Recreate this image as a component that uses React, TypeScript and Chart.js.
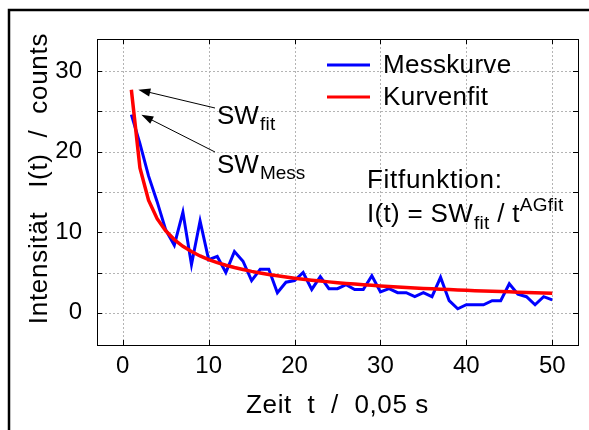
import React, { useEffect, useRef } from 'react';
import { Chart, registerables } from 'chart.js';

Chart.register(...registerables);

// ---- data ----
const tValues = [
  1, 2, 3, 4, 5, 6, 7, 8, 9, 10,
  11, 12, 13, 14, 15, 16, 17, 18, 19, 20,
  21, 22, 23, 24, 25, 26, 27, 28, 29, 30,
  31, 32, 33, 34, 35, 36, 37, 38, 39, 40,
  41, 42, 43, 44, 45, 46, 47, 48, 49, 50,
];
const messkurve = [
  24.6, 21.0, 17.0, 13.8, 10.3, 8.4, 12.5, 6.0, 11.4, 6.6,
  7.0, 5.0, 7.6, 6.4, 4.0, 5.4, 5.4, 2.5, 3.8, 4.0,
  5.0, 2.9, 4.5, 3.0, 3.0, 3.5, 2.9, 2.9, 4.6, 2.6,
  3.0, 2.5, 2.5, 2.0, 2.5, 2.0, 4.4, 1.5, 0.5, 1.0,
  1.0, 1.0, 1.5, 1.5, 3.6, 2.3, 2.0, 1.0, 2.0, 1.6,
];
const kurvenfit = [
  27.7, 18.0, 13.99, 11.69, 10.18, 9.09, 8.26, 7.6, 7.06, 6.61,
  6.23, 5.9, 5.62, 5.37, 5.14, 4.94, 4.75, 4.59, 4.44, 4.3,
  4.17, 4.05, 3.94, 3.84, 3.74, 3.65, 3.57, 3.49, 3.41, 3.34,
  3.27, 3.21, 3.15, 3.09, 3.03, 2.98, 2.93, 2.88, 2.84, 2.79,
  2.75, 2.71, 2.67, 2.63, 2.6, 2.56, 2.53, 2.49, 2.46, 2.43,
];
const xTicks = [0, 10, 20, 30, 40, 50];
const yTicks = [0, 5, 10, 15, 20, 25, 30];
const yLabelled = [0, 10, 20, 30];

const seriesNames = ['Messkurve', 'Kurvenfit'];
const xTitle = 'Zeit  t  /  0,05 s';
const yTitle = 'Intensität   I(t)  /  counts';

const FONT = '"Liberation Sans", Arial, Helvetica, sans-serif';
const BLUE = '#0000ff';
const RED = '#ff0000';

function drawText(
  ctx: CanvasRenderingContext2D,
  s: string,
  x: number,
  y: number,
  size: number,
  spacing = 0.3,
  align: CanvasTextAlign = 'left',
  baseline: CanvasTextBaseline = 'alphabetic'
): number {
  ctx.font = `${size}px ${FONT}`;
  (ctx as any).letterSpacing = `${spacing}px`;
  ctx.textAlign = align;
  ctx.textBaseline = baseline;
  ctx.fillStyle = '#000';
  ctx.fillText(s, x, y);
  const w = ctx.measureText(s).width;
  (ctx as any).letterSpacing = '0px';
  return w;
}

function arrow(ctx: CanvasRenderingContext2D, x1: number, y1: number, x2: number, y2: number) {
  const ang = Math.atan2(y2 - y1, x2 - x1);
  const hl = 12;
  const hw = 4;
  ctx.save();
  ctx.strokeStyle = '#000';
  ctx.fillStyle = '#000';
  ctx.lineWidth = 1;
  ctx.beginPath();
  ctx.moveTo(x1, y1);
  ctx.lineTo(x2 - Math.cos(ang) * hl * 0.8, y2 - Math.sin(ang) * hl * 0.8);
  ctx.stroke();
  ctx.beginPath();
  ctx.moveTo(x2, y2);
  ctx.lineTo(
    x2 - Math.cos(ang) * hl - Math.sin(ang) * hw,
    y2 - Math.sin(ang) * hl + Math.cos(ang) * hw
  );
  ctx.lineTo(
    x2 - Math.cos(ang) * hl + Math.sin(ang) * hw,
    y2 - Math.sin(ang) * hl - Math.cos(ang) * hw
  );
  ctx.closePath();
  ctx.fill();
  ctx.restore();
}

const decorPlugin = {
  id: 'decor',
  beforeDatasetsDraw(chart: any) {
    const { ctx, chartArea: a, scales } = chart;
    ctx.save();
    ctx.strokeStyle = '#b4b4b4';
    ctx.lineWidth = 1;
    ctx.setLineDash([2, 2]);
    xTicks.forEach((v) => {
      const x = Math.round(scales.x.getPixelForValue(v)) + 0.5;
      ctx.beginPath();
      ctx.moveTo(x, a.top);
      ctx.lineTo(x, a.bottom);
      ctx.stroke();
    });
    yTicks.forEach((v) => {
      const y = Math.round(scales.y.getPixelForValue(v)) + 0.5;
      ctx.beginPath();
      ctx.moveTo(a.left, y);
      ctx.lineTo(a.right, y);
      ctx.stroke();
    });
    ctx.restore();
  },
  afterDatasetsDraw(chart: any) {
    const { ctx, chartArea: a, scales } = chart;
    ctx.save();
    // plot frame
    ctx.strokeStyle = '#000';
    ctx.lineWidth = 1;
    ctx.setLineDash([]);
    ctx.strokeRect(Math.round(a.left) + 0.5, Math.round(a.top) + 0.5, Math.round(a.right - a.left), Math.round(a.bottom - a.top));
    // inward tick marks
    const tl = 5;
    yTicks.forEach((v) => {
      const y = Math.round(scales.y.getPixelForValue(v)) + 0.5;
      ctx.beginPath();
      ctx.moveTo(a.left, y);
      ctx.lineTo(a.left + tl, y);
      ctx.moveTo(a.right, y);
      ctx.lineTo(a.right - tl, y);
      ctx.stroke();
    });
    xTicks.forEach((v) => {
      const x = Math.round(scales.x.getPixelForValue(v)) + 0.5;
      ctx.beginPath();
      ctx.moveTo(x, a.bottom);
      ctx.lineTo(x, a.bottom - tl);
      ctx.moveTo(x, a.top);
      ctx.lineTo(x, a.top + tl);
      ctx.stroke();
    });

    // outer frame (top and left)
    ctx.lineWidth = 2.5;
    ctx.beginPath();
    ctx.moveTo(9, 430);
    ctx.lineTo(9, 10);
    ctx.lineTo(589, 10);
    ctx.stroke();

    // legend
    const legendColors = [BLUE, RED];
    const legendY = [65, 97];
    seriesNames.forEach((name, i) => {
      ctx.strokeStyle = legendColors[i];
      ctx.lineWidth = 3;
      ctx.beginPath();
      ctx.moveTo(327, legendY[i]);
      ctx.lineTo(370, legendY[i]);
      ctx.stroke();
      drawText(ctx, name, 383, legendY[i] + 1, 26, 0.3, 'left', 'middle');
    });

    // arrows + SW labels
    const x1 = scales.x.getPixelForValue(tValues[0]);
    const yFit = scales.y.getPixelForValue(kurvenfit[0]);
    const yMess = scales.y.getPixelForValue(messkurve[0]);
    arrow(ctx, 215, 108, x1 + 7, yFit);
    arrow(ctx, 215, 152, x1 + 10, yMess);

    let w = drawText(ctx, 'SW', 217, 124, 26, 0);
    drawText(ctx, 'fit', 217 + w + 1, 130, 19, 0.3);
    w = drawText(ctx, 'SW', 217, 173, 26, 0);
    drawText(ctx, 'Mess', 217 + w + 1, 179, 19, 0);

    // fit function text
    drawText(ctx, 'Fitfunktion:', 367, 188, 26, 0.7);
    let x = 367;
    x += drawText(ctx, 'I(t) = SW', x, 222, 26, 0.3);
    x += drawText(ctx, 'fit', x + 1, 229, 19, 0.3) + 1;
    x += drawText(ctx, ' / t', x, 222, 26, 0.3);
    drawText(ctx, 'AGfit', x, 211, 19, 0.3);

    // axis titles
    drawText(ctx, xTitle, (a.left + a.right) / 2, 413, 26, 0.6, 'center');
    ctx.save();
    ctx.translate(47, 178.5);
    ctx.rotate(-Math.PI / 2);
    drawText(ctx, yTitle, 0, 0, 26, 0.7, 'center');
    ctx.restore();

    ctx.restore();
  },
};

export default function App() {
  const ref = useRef<HTMLCanvasElement>(null);
  useEffect(() => {
    document.body.style.margin = '0';
    const canvas = ref.current!;
    const chart = new Chart(canvas, {
      type: 'line',
      data: {
        datasets: [
          {
            label: seriesNames[0],
            data: tValues.map((t, i) => ({ x: t, y: messkurve[i] })),
            borderColor: BLUE,
            backgroundColor: BLUE,
            borderWidth: 3,
            pointRadius: 0,
            tension: 0,
            fill: false,
            order: 1,
          },
          {
            label: seriesNames[1],
            data: tValues.map((t, i) => ({ x: t, y: kurvenfit[i] })),
            borderColor: RED,
            backgroundColor: RED,
            borderWidth: 3.5,
            pointRadius: 0,
            tension: 0,
            fill: false,
            order: 0,
          },
        ],
      },
      options: {
        animation: false,
        responsive: false,
        devicePixelRatio: 1,
        layout: { padding: { left: 0, top: 39, right: 11, bottom: 0 } },
        plugins: {
          legend: { display: false },
          tooltip: { enabled: false },
          title: { display: false },
        },
        scales: {
          x: {
            type: 'linear',
            min: -3,
            max: 53,
            grid: { display: false, drawTicks: false },
            border: { display: false },
            afterBuildTicks: (s: any) => {
              s.ticks = xTicks.map((v) => ({ value: v }));
            },
            afterFit: (s: any) => {
              s.height = 85;
            },
            ticks: {
              color: '#000',
              font: { family: FONT, size: 24 },
              padding: 7,
              maxRotation: 0,
              autoSkip: false,
              callback: (v: any) => String(v),
            },
          },
          y: {
            type: 'linear',
            min: -4,
            max: 34,
            grid: { display: false, drawTicks: false },
            border: { display: false },
            afterBuildTicks: (s: any) => {
              s.ticks = yTicks.map((v) => ({ value: v }));
            },
            afterFit: (s: any) => {
              s.width = 97;
            },
            ticks: {
              color: '#000',
              font: { family: FONT, size: 24 },
              padding: 15,
              autoSkip: false,
              callback: (v: any) => (yLabelled.includes(Number(v)) ? String(v) : ''),
            },
          },
        },
      },
      plugins: [decorPlugin],
    } as any);
    return () => chart.destroy();
  }, []);
  return (
    <div style={{ position: 'absolute', left: 0, top: 0, width: 589, height: 430, background: '#fff' }}>
      <canvas ref={ref} width={589} height={430} style={{ display: 'block', width: 589, height: 430 }} />
    </div>
  );
}
